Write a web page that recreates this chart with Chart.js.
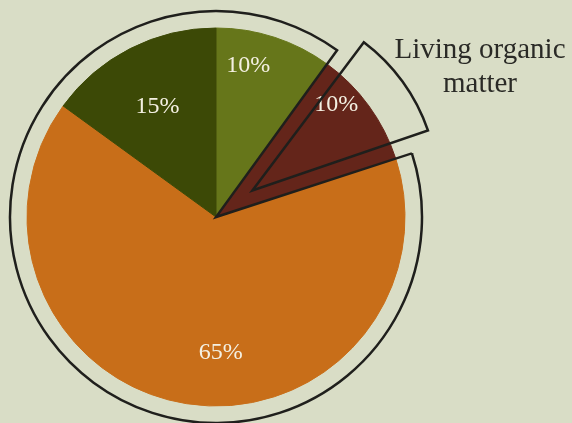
<!DOCTYPE html>
<html>
<head>
<meta charset="utf-8">
<script src="https://cdn.jsdelivr.net/npm/chart.js@4"></script>
<style>
  body { margin: 0; background: #d9ddc6; }
  #wrap { position: relative; width: 572px; height: 423px; overflow: hidden; }
  #wrap canvas { position: absolute; left: 0; top: 0; }
  #note {
    position: absolute; left: 380px; top: 31px; width: 200px;
    font-family: "Liberation Serif", serif; font-size: 29px; line-height: 34px;
    color: #2a2a26; text-align: center;
  }
</style>
</head>
<body>
<div id="wrap">
  <canvas id="pieChart" width="572" height="423"></canvas>
  <canvas id="ringChart" width="572" height="423"></canvas>
  <canvas id="popChart" width="572" height="423"></canvas>
  <div id="note">Living organic<br>matter</div>
</div>
<script>
    // slices, clockwise from 12 o'clock
    var sliceNames = ['Humus', 'Living organic matter', 'Mineral', 'Other'];
    var sliceValues = [10, 10, 65, 15];
    var sliceLabels = ['10%', '10%', '65%', '15%'];
    var sliceColors = ['#66761a', '#64251a', '#c86e19', '#3c4906'];

    var highlightIndex = 1;   // the slice pulled out of the ring
    var restValue = sliceValues.reduce((a, b) => a + b, 0) - sliceValues[highlightIndex];

    // angle where the highlighted slice starts (degrees)
    var startDeg = sliceValues.slice(0, highlightIndex).reduce((a, b) => a + b, 0) * 3.6;

    var lineColor = '#1f1f1c';

    // all three canvases share the same centre (216, 217)
    var pad = { left: 0, right: 140, top: 11, bottom: 0 };

    // label placement: share of the radius, and a small turn (degrees) off the slice middle
    var labelReach = [0.82, 0.87, 0.72, 0.66];
    var labelTurn = [-6, -7, -11, -1];

    var sliceText = {
        id: 'sliceText',
        afterDatasetsDraw(chart) {
            var c = chart.ctx;
            var arcs = chart.getDatasetMeta(0).data;
            c.save();
            c.fillStyle = '#f4f0e2';
            c.font = '24px "Liberation Serif", serif';
            c.textAlign = 'center';
            c.textBaseline = 'middle';
            arcs.forEach((arc, i) => {
                var p = arc.getProps(['x', 'y', 'startAngle', 'endAngle', 'outerRadius'], true);
                var mid = (p.startAngle + p.endAngle) / 2 + labelTurn[i] * Math.PI / 180;
                var r = p.outerRadius * labelReach[i];
                c.fillText(sliceLabels[i], p.x + Math.cos(mid) * r, p.y + Math.sin(mid) * r);
            });
            c.restore();
        }
    };

    var baseOptions = {
        responsive: false,
        animation: false,
        layout: { padding: pad },
        plugins: { legend: { display: false }, tooltip: { enabled: false } }
    };

    new Chart(document.getElementById('pieChart').getContext('2d'), {
        type: 'pie',
        data: {
            labels: sliceNames,
            datasets: [{
                data: sliceValues,
                backgroundColor: sliceColors,
                borderColor: sliceColors,
                borderWidth: 1
            }]
        },
        options: Object.assign({}, baseOptions, { radius: 189 }),
        plugins: [sliceText]
    });

    // outline around everything except the highlighted slice
    new Chart(document.getElementById('ringChart').getContext('2d'), {
        type: 'pie',
        data: {
            labels: ['pulled', 'rest'],
            datasets: [{
                data: [sliceValues[highlightIndex], restValue],
                backgroundColor: 'rgba(0,0,0,0)',
                borderColor: ['rgba(0,0,0,0)', lineColor],
                borderWidth: [0, 2.5],
                borderJoinStyle: 'miter'
            }]
        },
        options: Object.assign({}, baseOptions, { radius: 206, rotation: startDeg })
    });

    // outline of the pulled-out slice; Chart.js moves it by offset/4 and
    // also grows its radius a little, so the radius is set smaller here
    new Chart(document.getElementById('popChart').getContext('2d'), {
        type: 'pie',
        data: {
            labels: ['pulled', 'rest'],
            datasets: [{
                data: [sliceValues[highlightIndex], restValue],
                backgroundColor: 'rgba(0,0,0,0)',
                borderColor: [lineColor, 'rgba(0,0,0,0)'],
                borderWidth: [2.5, 0],
                borderJoinStyle: 'miter',
                offset: [180, 0]
            }]
        },
        options: Object.assign({}, baseOptions, { radius: 167, rotation: startDeg })
    });
</script>
</body>
</html>
